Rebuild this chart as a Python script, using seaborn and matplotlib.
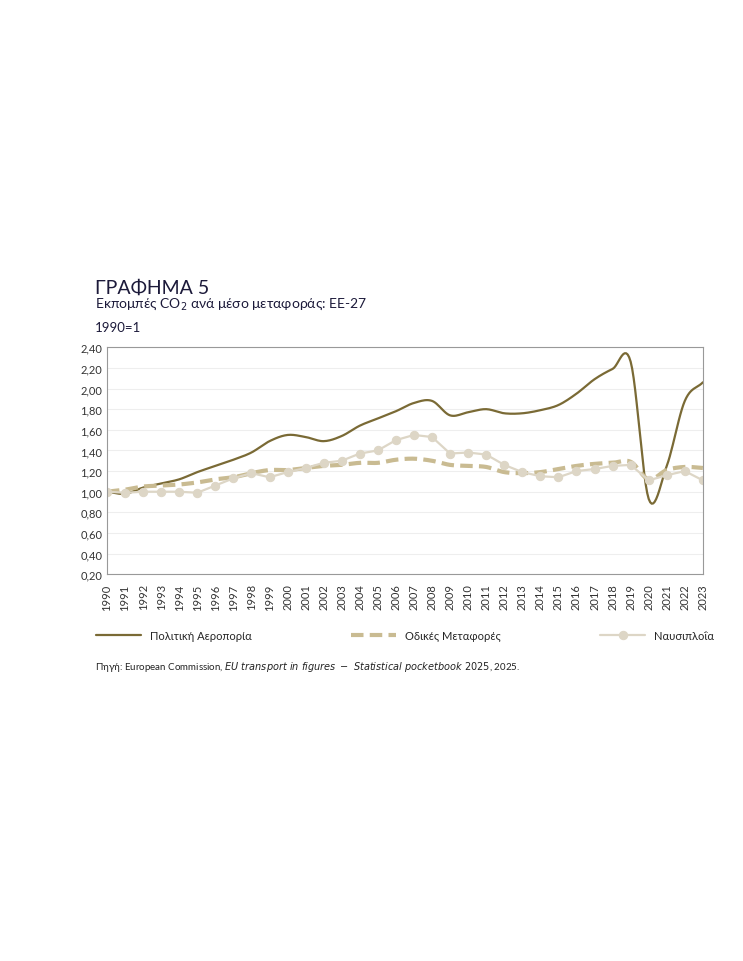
import numpy as np
import pandas as pd
import seaborn as sns
import matplotlib.pyplot as plt
from matplotlib.ticker import FuncFormatter

years = list(range(1990, 2024))
aviation = [1.00, 0.98, 1.04, 1.08, 1.12, 1.19, 1.25, 1.31, 1.38, 1.49, 1.55, 1.53, 1.49, 1.54,
            1.64, 1.71, 1.78, 1.86, 1.88, 1.74, 1.77, 1.80, 1.76, 1.76, 1.79, 1.84, 1.95, 2.09,
            2.19, 2.26, 0.93, 1.25, 1.88, 2.06]
road = [1.00, 1.02, 1.05, 1.06, 1.07, 1.09, 1.12, 1.14, 1.18, 1.21, 1.21, 1.23, 1.25, 1.26,
        1.28, 1.28, 1.31, 1.32, 1.30, 1.26, 1.25, 1.24, 1.19, 1.18, 1.19, 1.22, 1.25, 1.27,
        1.28, 1.29, 1.12, 1.21, 1.24, 1.23]
shipping = [1.00, 0.99, 1.00, 1.00, 1.00, 0.99, 1.06, 1.13, 1.18, 1.14, 1.19, 1.23, 1.28, 1.30,
            1.37, 1.40, 1.50, 1.55, 1.53, 1.37, 1.38, 1.36, 1.26, 1.19, 1.15, 1.14, 1.20, 1.22,
            1.25, 1.26, 1.11, 1.16, 1.20, 1.11]


def smooth(x, y, n=12):
    # Catmull-Rom style smoothing, like Excel's smoothed lines
    x = np.asarray(x, float)
    y = np.asarray(y, float)
    px = np.concatenate([[2 * x[0] - x[1]], x, [2 * x[-1] - x[-2]]])
    py = np.concatenate([[2 * y[0] - y[1]], y, [2 * y[-1] - y[-2]]])
    xs, ys = [], []
    for i in range(1, len(px) - 2):
        t = np.linspace(0, 1, n, endpoint=False)
        for p, out in ((px, xs), (py, ys)):
            p0, p1, p2, p3 = p[i - 1], p[i], p[i + 1], p[i + 2]
            out.extend(0.5 * ((2 * p1) + (-p0 + p2) * t + (2 * p0 - 5 * p1 + 4 * p2 - p3) * t ** 2
                              + (-p0 + 3 * p1 - 3 * p2 + p3) * t ** 3))
    xs.append(x[-1]); ys.append(y[-1])
    return np.array(xs), np.array(ys)


sns.set_style("white")
plt.rcParams['font.family'] = ['Lato', 'DejaVu Sans']

fig = plt.figure(figsize=(7.43, 9.62), dpi=100)
ax = fig.add_axes([0.144, 0.402, 0.802, 0.236])

c_av, c_road, c_ship = '#7a6a35', '#c9bb92', '#ddd6c6'

sx, sy = smooth(years, aviation)
sns.lineplot(x=sx, y=sy, ax=ax, color=c_av, lw=1.6, label='Πολιτική Αεροπορία', sort=False)
rx, ry = smooth(years, road)
sns.lineplot(x=rx, y=ry, ax=ax, color=c_road, lw=3, dashes=False, label='Οδικές Μεταφορές', sort=False)
ax.lines[-1].set_linestyle((0, (3, 1.5)))
sns.lineplot(x=years, y=shipping, ax=ax, color=c_ship, lw=1.6, marker='o', markersize=6,
             markeredgecolor=c_ship, label='Ναυσιπλοΐα')

ax.set_xlim(1990, 2023)
ax.set_ylim(0.2, 2.4)
ax.set_yticks(np.arange(0.2, 2.41, 0.2))
ax.yaxis.set_major_formatter(FuncFormatter(lambda v, p: f"{v:.2f}".replace('.', ',')))
ax.set_xticks(years)
ax.set_xticklabels([str(y) for y in years], rotation=90)
ax.tick_params(axis='both', labelsize=8, colors='#333333', length=3)
ax.tick_params(axis='y', length=0)
ax.grid(axis='y', color='#eeeeee', lw=0.8)
for s in ax.spines.values():
    s.set_color('#999999')
    s.set_linewidth(0.8)
ax.set_xlabel('')
ax.set_ylabel('')

ax.legend(loc='upper center', bbox_to_anchor=(0.5, -0.2), ncol=3, frameon=False, fontsize=8,
          handlelength=4, columnspacing=9)

fig.text(0.128, 0.695, 'ΓΡΑΦΗΜΑ 5', fontsize=14, color='#1c1a3a')
fig.text(0.128, 0.680, 'Εκπομπές CO$_2$ ανά μέσο μεταφοράς: ΕΕ-27', fontsize=10, color='#1c1a3a')
fig.text(0.128, 0.655, '1990=1', fontsize=9.5, color='#1c1a3a')
fig.text(0.128, 0.304, 'Πηγή: European Commission, $\\it{EU\\ transport\\ in\\ figures\\ -\\ Statistical\\ pocketbook\\ 2025}$, 2025.',
         fontsize=7, color='#222222')

fig.savefig('out.png', dpi=100)
